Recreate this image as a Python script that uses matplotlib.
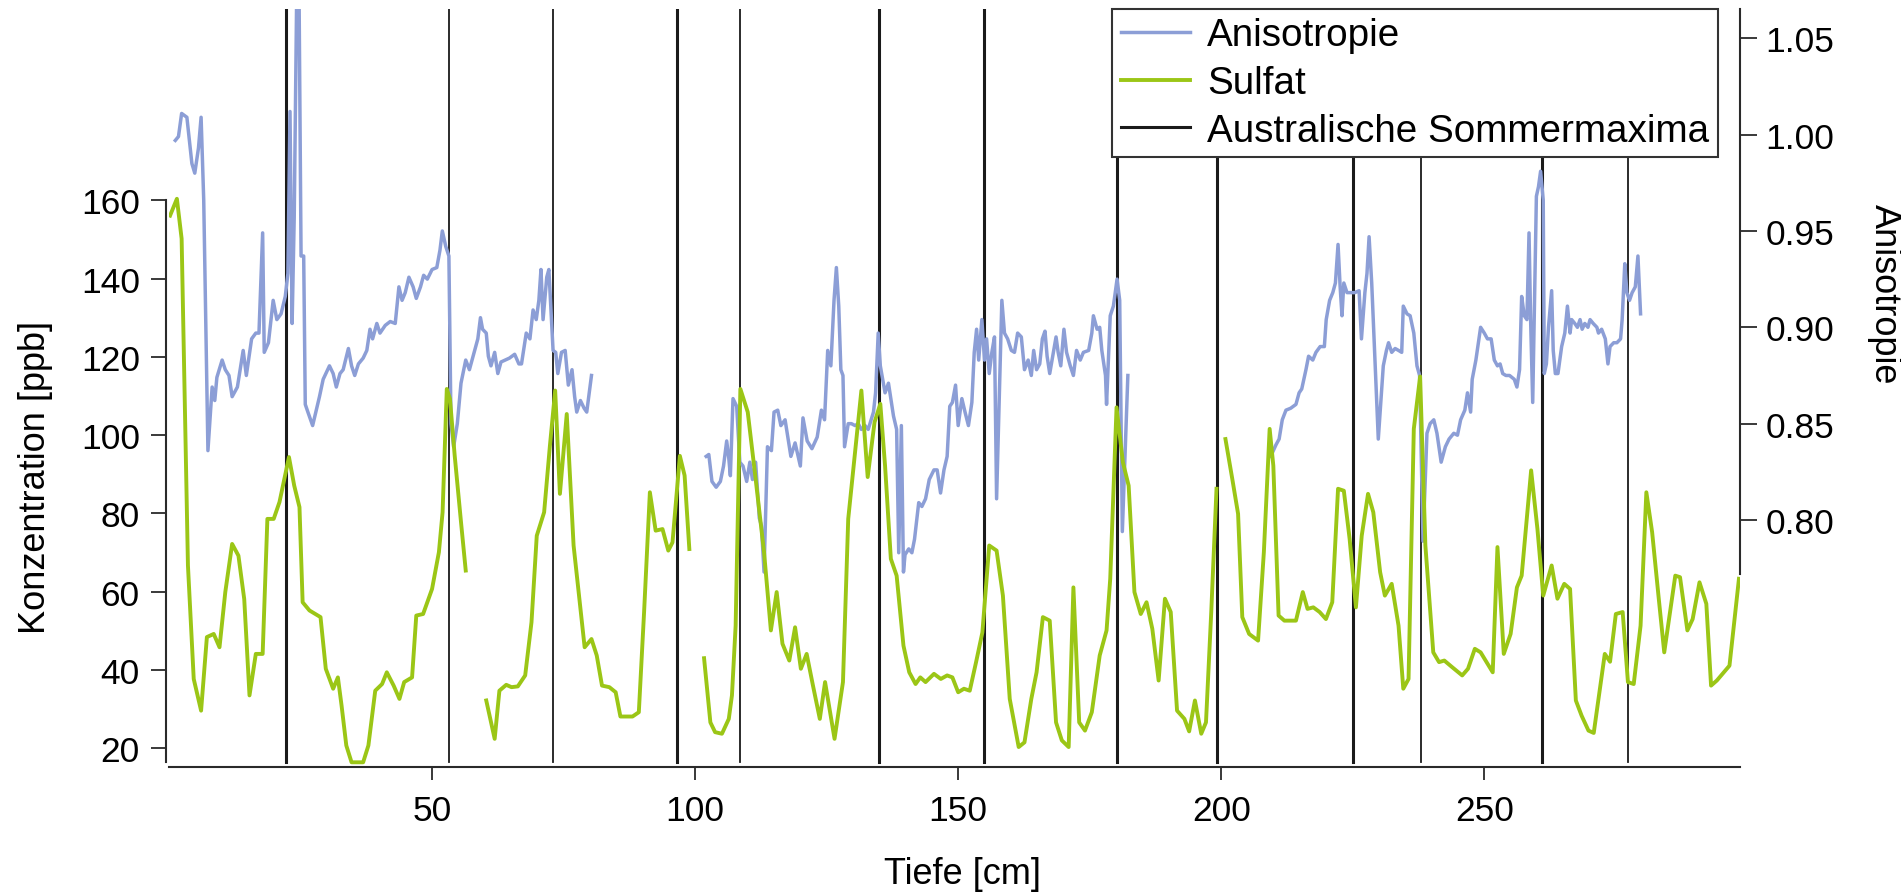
import numpy as np
import matplotlib
matplotlib.use("Agg")
import matplotlib.pyplot as plt
from matplotlib.lines import Line2D

nan = np.nan

# Sulfat [ppb] vs Tiefe [cm], gaps marked with nan
sulfat_depth = [
    0.2, 1.5, 2.4, 3.6, 4.7, 6.1, 7.2, 8.5, 9.6, 10.7, 12.0, 13.2, 14.3, 15.3, 16.5, 17.8, 18.7, 19.9,
    21.0, 22.8, 23.8, 24.8, 25.4, 26.7, 28.8, 29.8, 31.2, 32.1, 32.8, 33.7, 34.7, 36.9, 37.9, 39.2,
    40.5, 41.4, 42.7, 43.8, 44.7, 46.2, 47.0, 48.3, 50.0, 51.3, 52.0, 52.8, 53.4, 54.3, 55.5, 56.4, nan,
    60.3, 61.9, 62.8, 64.1, 65.1, 66.3, 67.7, 68.9, 69.9, 71.3, 72.4, 73.4, 74.3, 75.6, 76.9, 79.0,
    80.3, 81.3, 82.3, 83.7, 84.9, 85.8, 88.1, 89.3, 90.3, 91.4, 92.5, 93.8, 94.9, 95.7, 97.1, 98.0, 98.9, nan,
    101.7, 102.9, 103.8, 105.1, 106.4, 107.0, 107.7, 108.6, 110.0, 111.5, 113.1, 114.4, 115.5, 116.6,
    117.9, 119.0, 120.1, 121.2, 122.4, 123.7, 124.7, 126.5, 128.1, 129.1, 130.4, 131.6, 132.8, 134.1,
    135.2, 136.1, 137.2, 138.3, 139.6, 140.7, 141.9, 142.8, 143.8, 145.4, 146.7, 147.9, 148.9, 150.0,
    151.1, 152.2, 153.4, 154.6, 155.9, 157.3, 158.5, 159.8, 161.5, 162.6, 163.9, 164.9, 166.1, 167.4,
    168.6, 169.7, 171.0, 171.9, 173.0, 174.1, 175.4, 176.9, 178.2, 178.9, 180.1, 181.3, 182.4, 183.5,
    184.7, 185.8, 186.9, 188.1, 189.3, 190.4, 191.6, 193.0, 193.9, 195.0, 196.2, 197.1, 198.1, 199.1, nan,
    200.8, 202.1, 203.2, 204.0, 205.3, 207.0, 208.1, 209.2, 209.9, 210.9, 212.0, 214.2, 215.5, 216.4,
    217.5, 218.7, 219.9, 221.1, 222.2, 223.3, 224.4, 225.6, 226.7, 227.9, 228.9, 230.2, 231.1, 232.4,
    233.7, 234.6, 235.6, 236.6, 237.8, 238.8, 240.3, 241.4, 242.4, 243.9, 245.8, 246.9, 248.2, 249.3,
    251.6, 252.5, 253.7, 255.0, 256.2, 257.1, 258.9, 260.1, 261.2, 262.8, 263.9, 265.2, 266.3, 267.4,
    268.5, 269.8, 270.8, 271.7, 272.9, 273.9, 275.0, 276.3, 277.3, 278.4, 279.7, 280.8, 281.9, 283.1,
    284.2, 285.3, 286.3, 287.2, 288.6, 289.6, 290.9, 292.2, 293.1, 294.2, 296.6, 298.4,
]
sulfat_ppb = [
    156.1, 160.4, 150.2, 66.7, 37.7, 29.6, 48.4, 49.2, 45.8, 59.9, 72.2, 69.2, 58.1, 33.5, 44.1, 44.1, 78.6, 78.6,
    82.9, 94.4, 87.1, 81.6, 57.3, 55.2, 53.5, 40.3, 35.2, 38.1, 30.9, 20.7, 16.4, 16.4, 20.7, 34.7,
    36.4, 39.4, 36.0, 32.6, 36.9, 38.1, 53.9, 54.3, 60.7, 70.1, 80.3, 111.8, 109.3, 94.8, 77.8, 65.4, nan,
    32.2, 22.4, 34.7, 36.2, 35.6, 35.8, 38.6, 52.2, 74.3, 80.3, 97.3, 111.4, 85.0, 105.4, 71.8, 45.8,
    47.9, 43.7, 36.0, 35.6, 34.3, 28.1, 28.1, 29.2, 54.8, 85.4, 75.6, 76.0, 70.5, 72.6, 94.7, 89.7, 70.9, nan,
    43.0, 26.6, 24.1, 23.7, 27.5, 33.5, 51.3, 111.8, 105.9, 88.8, 70.1, 50.1, 59.9, 46.7,
    42.4, 50.9, 40.3, 44.1, 36.0, 27.5, 36.9, 22.4, 36.9, 78.6, 95.6, 111.4, 89.3, 103.3,
    108.0, 92.2, 68.4, 64.1, 46.2, 39.4, 36.4, 38.1, 36.9, 39.0, 37.7, 38.6, 38.1, 34.3,
    35.2, 34.7, 42.0, 49.6, 71.8, 70.5, 59.0, 32.6, 20.3, 21.5, 32.6, 39.4, 53.5, 52.6,
    26.6, 22.0, 20.3, 61.1, 26.6, 24.5, 29.2, 43.7, 50.1, 63.3, 107.1, 93.1, 87.1, 59.9,
    54.3, 57.3, 50.5, 37.3, 58.2, 54.8, 29.6, 27.5, 24.3, 32.2, 23.7, 26.6, 54.8, 86.3, nan,
    99.0, 88.8, 79.9, 53.5, 49.2, 47.5, 70.1, 101.6, 92.2, 53.9, 52.6, 52.6, 59.9, 55.6,
    56.0, 54.8, 53.0, 57.3, 86.3, 85.8, 73.5, 56.0, 74.3, 85.0, 80.3, 65.0, 59.0, 62.0,
    51.3, 35.2, 37.7, 101.6, 115.0, 71.8, 44.5, 42.0, 42.4, 40.7, 38.6, 40.3, 45.4, 44.5,
    39.4, 71.4, 44.1, 49.2, 61.1, 64.1, 91.0, 76.0, 59.0, 66.7, 58.2, 62.0, 60.7, 32.2,
    28.3, 24.5, 23.9, 32.6, 44.1, 42.1, 54.3, 54.8, 36.9, 36.4, 51.3, 85.4, 75.2, 59.0,
    44.5, 54.8, 64.1, 63.7, 50.1, 53.0, 62.4, 56.9, 36.0, 37.3, 41.1, 63.3,
]

# Anisotropie vs Tiefe [cm]
aniso_depth = [
    1.2, 1.8, 2.4, 3.4, 4.35, 4.9, 5.6, 6.1, 6.6, 7.4, 8.2, 8.7, 9.1, 10.1, 10.7, 11.4, 12.0, 13.0,
    14.1, 14.7, 15.7, 16.5, 17.1, 17.8, 18.1, 18.9, 19.8, 20.5, 21.3, 22.1, 22.6, 23.0, 23.4, 23.8,
    24.3, 24.7, 25.1, 25.6, 25.9, 26.4, 27.3, 28.6, 29.3, 30.5, 31.2, 31.8, 32.5, 33.1, 34.1, 34.7,
    35.3, 36.0, 36.9, 37.6, 38.2, 38.7, 39.5, 40.1, 41.1, 42.05, 43.0, 43.7, 44.3, 44.9, 45.6, 46.4,
    47.0, 47.8, 48.4, 49.1, 50.0, 50.9, 51.5, 51.95, 52.6, 53.2, 53.6, 54.1, 54.8, 55.5, 56.4, 57.1,
    58.0, 58.7, 59.2, 59.6, 60.3, 60.7, 61.2, 61.9, 62.5, 63.1, 63.9, 64.7, 65.7, 66.5, 67.0, 67.9,
    68.6, 69.2, 69.8, 70.3, 70.7, 71.1, 71.8, 72.2, 72.7, 73.0, 73.5, 73.9, 74.6, 75.3, 75.9, 76.6,
    77.1, 77.5, 78.2, 78.9, 79.4, 80.3, nan,
    102.1, 102.6, 103.2, 104.0, 104.8, 105.4, 106.0, 106.4, 106.7, 107.2, 107.9, 108.5, 109.1, 109.8,
    110.4, 110.9, 111.5, 112.2, 112.6, 113.1, 113.75, 114.5, 115.0, 115.7, 116.3, 117.1, 118.2, 119.0,
    120.0, 120.5, 121.3, 122.2, 123.2, 124.0, 124.6, 125.2, 125.8, 126.4, 126.85, 127.3, 127.7, 128.1,
    128.4, 129.1, 129.7, 130.4, 131.0, 131.6, 132.3, 132.9, 133.9, 134.3, 134.8, 135.2, 136.1, 136.75,
    137.7, 138.3, 138.7, 139.2, 139.6, 139.9, 140.6, 141.2, 141.7, 142.5, 143.1, 143.8, 144.5, 145.4,
    146.0, 146.65, 147.3, 147.9, 148.4, 148.9, 149.5, 150.0, 150.7, 151.3, 151.95, 152.6, 153.05, 153.5,
    153.9, 154.5, 155.0, 155.4, 155.9, 156.4, 156.9, 157.3, 158.3, 158.8, 159.4, 160.1, 160.7, 161.3,
    162.0, 162.6, 163.3, 163.9, 164.35, 164.9, 165.5, 166.0, 166.5, 166.9, 167.4, 168.1, 168.6, 169.0,
    169.5, 170.1, 170.6, 171.3, 171.9, 172.5, 173.2, 173.8, 174.8, 175.4, 175.7, 176.4, 176.9, 177.3,
    178.0, 178.2, 178.9, 179.5, 180.2, 180.7, 181.2, 182.25, nan,
    209.4, 210.4, 211.0, 211.6, 212.3, 213.2, 214.2, 214.8, 215.3, 216.1, 216.6, 217.4, 218.0, 218.8,
    219.6, 219.95, 220.6, 221.2, 221.7, 222.2, 222.6, 222.95, 223.3, 223.9, 224.7, 225.4, 226.2, 226.65,
    227.3, 227.7, 228.1, 228.6, 229.0, 229.85, 230.8, 231.4, 231.8, 232.4, 233.05, 233.7, 234.3, 234.6,
    235.3, 235.9, 236.6, 237.2, 237.7, 238.35, 239.1, 239.7, 240.4, 241.0, 241.8, 242.6, 243.3, 244.2,
    244.9, 245.5, 246.3, 246.8, 247.4, 247.7, 248.4, 249.3, 250.0, 250.6, 251.3, 251.9, 252.5, 253.0,
    253.5, 254.1, 254.8, 255.7, 256.2, 256.7, 257.1, 257.6, 258.1, 258.5, 258.8, 259.2, 259.9, 260.3,
    260.7, 261.2, 261.4, 261.8, 262.2, 262.8, 263.1, 263.5, 264.0, 264.7, 265.3, 265.8, 266.3, 266.6,
    267.2, 267.7, 268.2, 268.6, 269.1, 269.7, 270.1, 270.7, 271.4, 271.7, 272.3, 273.0, 273.5, 273.9,
    274.6, 275.2, 275.9, 276.2, 276.7, 277.1, 277.6, 278.1, 278.7, 279.2, 279.7,
]
aniso_value = [
    0.997, 0.999, 1.011, 1.009, 0.985, 0.980, 0.993, 1.009, 0.966, 0.836, 0.869, 0.862, 0.874, 0.883, 0.878, 0.875, 0.864, 0.869,
    0.888, 0.875, 0.894, 0.897, 0.897, 0.949, 0.887, 0.892, 0.914, 0.904, 0.907, 0.916, 0.928, 1.012, 0.902, 0.957,
    1.08, 1.08, 0.937, 0.937, 0.860, 0.856, 0.849, 0.864, 0.873, 0.880, 0.876, 0.869, 0.876, 0.878, 0.889, 0.880,
    0.875, 0.881, 0.884, 0.888, 0.899, 0.894, 0.902, 0.897, 0.901, 0.903, 0.902, 0.921, 0.914, 0.918, 0.926, 0.921,
    0.915, 0.921, 0.927, 0.925, 0.930, 0.931, 0.940, 0.950, 0.942, 0.937, 0.850, 0.838, 0.850, 0.871, 0.883, 0.878,
    0.887, 0.894, 0.905, 0.899, 0.897, 0.885, 0.880, 0.887, 0.876, 0.882, 0.883, 0.884, 0.886, 0.881, 0.881, 0.897,
    0.894, 0.909, 0.904, 0.914, 0.930, 0.904, 0.926, 0.930, 0.904, 0.888, 0.887, 0.876, 0.887, 0.888, 0.870, 0.878,
    0.864, 0.856, 0.862, 0.858, 0.856, 0.875, nan,
    0.833, 0.834, 0.820, 0.817, 0.820, 0.828, 0.841, 0.832, 0.823, 0.863, 0.859, 0.830, 0.828, 0.820,
    0.830, 0.821, 0.830, 0.801, 0.797, 0.773, 0.838, 0.836, 0.856, 0.857, 0.849, 0.852, 0.833, 0.840,
    0.828, 0.853, 0.841, 0.837, 0.843, 0.857, 0.852, 0.888, 0.880, 0.914, 0.931, 0.911, 0.878, 0.875,
    0.838, 0.850, 0.850, 0.849, 0.850, 0.847, 0.849, 0.847, 0.856, 0.866, 0.897, 0.880, 0.866, 0.871,
    0.854, 0.847, 0.783, 0.849, 0.773, 0.782, 0.785, 0.783, 0.790, 0.809, 0.807, 0.811, 0.821, 0.826,
    0.826, 0.814, 0.826, 0.833, 0.859, 0.861, 0.870, 0.849, 0.863, 0.856, 0.849, 0.861, 0.887, 0.899,
    0.883, 0.904, 0.883, 0.894, 0.876, 0.887, 0.895, 0.811, 0.914, 0.897, 0.894, 0.888, 0.887, 0.897,
    0.895, 0.878, 0.883, 0.875, 0.888, 0.878, 0.881, 0.894, 0.898, 0.885, 0.876, 0.887, 0.895, 0.887,
    0.880, 0.899, 0.887, 0.880, 0.875, 0.888, 0.883, 0.887, 0.888, 0.897, 0.906, 0.899, 0.900, 0.888,
    0.875, 0.860, 0.906, 0.911, 0.925, 0.914, 0.794, 0.875, nan,
    0.833, 0.839, 0.842, 0.852, 0.857, 0.858, 0.860, 0.866, 0.868, 0.878, 0.885, 0.883, 0.887, 0.890,
    0.890, 0.904, 0.914, 0.918, 0.923, 0.943, 0.921, 0.906, 0.923, 0.918, 0.918, 0.918, 0.919, 0.894,
    0.918, 0.928, 0.947, 0.923, 0.897, 0.842, 0.880, 0.888, 0.892, 0.887, 0.889, 0.888, 0.887, 0.911,
    0.907, 0.906, 0.897, 0.880, 0.875, 0.789, 0.845, 0.850, 0.852, 0.845, 0.830, 0.838, 0.842, 0.845,
    0.844, 0.852, 0.857, 0.866, 0.856, 0.873, 0.883, 0.900, 0.897, 0.894, 0.894, 0.883, 0.880, 0.881,
    0.876, 0.875, 0.875, 0.873, 0.869, 0.878, 0.916, 0.906, 0.904, 0.949, 0.904, 0.861, 0.968, 0.973,
    0.981, 0.966, 0.876, 0.881, 0.900, 0.919, 0.888, 0.876, 0.876, 0.890, 0.897, 0.911, 0.897, 0.904,
    0.902, 0.900, 0.904, 0.899, 0.902, 0.900, 0.904, 0.902, 0.900, 0.897, 0.899, 0.894, 0.881, 0.890,
    0.892, 0.892, 0.894, 0.904, 0.933, 0.918, 0.914, 0.918, 0.921, 0.937, 0.907,
]

# Australische Sommermaxima (depth in cm)
sommer_maxima = [22.2, 53.2, 72.9, 96.6, 108.5, 135.0, 155.0, 180.2, 199.2, 225.1, 237.9, 261.0, 277.4]
bold_maxima = [22.2, 96.6, 135.0, 155.0, 180.2, 199.2, 225.1, 261.0]

x_ticks = [50, 100, 150, 200, 250]
left_ticks = [20, 40, 60, 80, 100, 120, 140, 160]
right_ticks = [0.80, 0.85, 0.90, 0.95, 1.00, 1.05]

blue = '#8C9ED6'
green = '#9BC616'
dark = '#1a1a1a'
axis_col = '#2a2a2a'

plt.rcParams['font.family'] = ['Liberation Sans', 'DejaVu Sans']

fig = plt.figure(figsize=(19.01, 8.95), dpi=100)
ax = fig.add_axes([169 / 1901, 1 - 768 / 895, 1571 / 1901, 758 / 895])
ax_s = ax.twinx()

# anisotropy axis (right) with summer maxima lines underneath
for d in sommer_maxima:
    lw = 2.2 if d in bold_maxima else 1.3
    ax.axvline(d, ymin=0.0066, ymax=1, color=dark, lw=lw, zorder=1)
ax.plot(aniso_depth, aniso_value, color=blue, lw=2.5, zorder=2)
ax.set_xlim(0, 298.6)
ax.set_ylim(0.6718, 1.0652)
ax.yaxis.tick_right()
ax.set_yticks(right_ticks)
ax.set_yticklabels([f'{v:.2f}' for v in right_ticks])
ax.set_xticks(x_ticks)

# sulfat axis (left)
ax_s.plot(sulfat_depth, sulfat_ppb, color=green, lw=2.8, zorder=3)
ax_s.set_ylim(15.2, 208.9)
ax_s.yaxis.tick_left()
ax_s.set_yticks(left_ticks)

for a in (ax, ax_s):
    a.spines['top'].set_visible(False)
    for s in a.spines.values():
        s.set_color(axis_col)
        s.set_linewidth(1.5)
ax.spines['left'].set_visible(False)
ax.spines['right'].set_bounds(0.772, 1.0652)
ax_s.spines['right'].set_visible(False)
ax_s.spines['bottom'].set_visible(False)
ax_s.spines['left'].set_bounds(16.5, 160)
ax_s.spines['left'].set_position(('outward', 2))

ax.tick_params(axis='x', direction='out', length=9.5, width=1.3, pad=10,
               labelsize=25.5, color=axis_col)
ax.tick_params(axis='y', direction='out', length=12, width=1.3, pad=6.5,
               labelsize=25.5, color=axis_col)
ax_s.tick_params(axis='y', direction='out', length=11, width=1.3, pad=8,
                 labelsize=25.5, color=axis_col)

fig.text(962 / 1901, 1 - 875 / 895, 'Tiefe [cm]', fontsize=26, ha='center', va='center')
fig.text(36 / 1901, 1 - 477 / 895, 'Konzentration [ppb]', fontsize=26, rotation=90,
         ha='center', va='center')
fig.text(1884 / 1901, 1 - 294 / 895, 'Anisotropie', fontsize=26, rotation=270,
         ha='center', va='center')

handles = [Line2D([], [], color=blue, lw=2.5),
           Line2D([], [], color=green, lw=2.8),
           Line2D([], [], color=dark, lw=2.2)]
leg = ax_s.legend(handles, ['Anisotropie', 'Sulfat', 'Australische Sommermaxima'],
                  loc='upper right', bbox_to_anchor=(0.986, 1.0), borderaxespad=0,
                  fontsize=27.8, fancybox=False, framealpha=1, edgecolor='#333333',
                  handlelength=1.8, handletextpad=0.45, labelspacing=0.3, borderpad=0.22)
leg.get_frame().set_linewidth(1.5)
leg.set_zorder(10)

fig.savefig('out.png', dpi=100)
